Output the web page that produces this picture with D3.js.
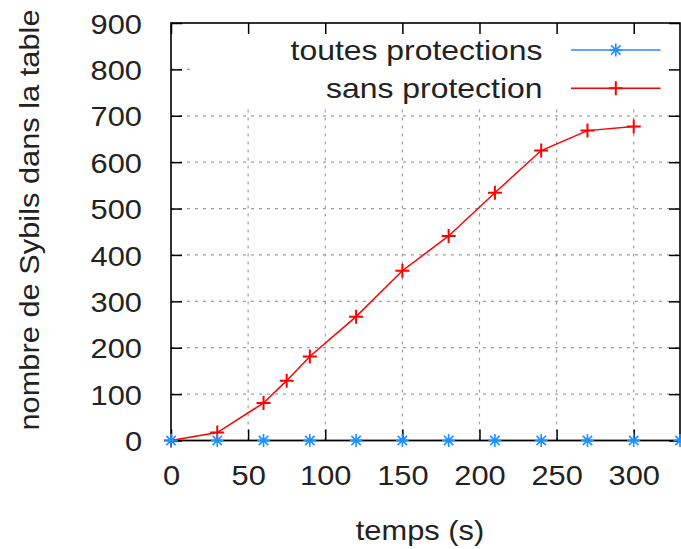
<!DOCTYPE html>
<html>
<head>
<meta charset="utf-8">
<script src="https://cdn.jsdelivr.net/npm/d3@7"></script>
<style>
  html, body { margin: 0; padding: 0; background: #fff; }
  svg { display: block; }
  text { font-family: "Liberation Sans", Arial, sans-serif; fill: #222; }
</style>
</head>
<body>
<svg id="chart" width="681" height="549"></svg>
<script>
// Time samples (s) and number of Sybil nodes held in the table
const timesAll = [0, 30, 60, 90, 120, 150, 180, 210, 240, 270, 300, 330];
const sybilsAll = [0, 0, 0, 0, 0, 0, 0, 0, 0, 0, 0, 0];
const timesNone = [0, 30, 60, 75, 90, 120, 150, 180, 210, 240, 270, 300];
const sybilsNone = [0, 17, 81, 129, 181, 267, 366, 441, 534, 625, 668, 677];

const seriesNames = ["toutes protections", "sans protection"];
const xTicks = [0, 50, 100, 150, 200, 250, 300];
const yTicks = [0, 100, 200, 300, 400, 500, 600, 700, 800, 900];
const xTitle = "temps (s)";
const yTitle = "nombre de Sybils dans la table";

const blue = "#1e8fff";
const red = "#ff0000";
const fontSize = 28;
const fontFamily = '"Liberation Sans", Arial, sans-serif';
const textWiden = 1.1;   // glyphs are drawn slightly wide
const keyWiden = 1.14;

const svg = d3.select("#chart");
const plotLeft = 171, plotRight = 680, plotTop = 23, plotBottom = 440.5;

const x = d3.scaleLinear().domain([0, 330]).range([plotLeft, plotRight]);
const y = d3.scaleLinear().domain([0, 900]).range([plotBottom, plotTop]);

// dashed grid
const grid = svg.append("g").attr("stroke", "#a0a0a0").attr("stroke-width", 1.2)
  .attr("stroke-dasharray", "3,5");
grid.selectAll("line.gx").data(xTicks.filter(d => d > 0)).join("line")
  .attr("x1", d => x(d)).attr("x2", d => x(d))
  .attr("y1", plotBottom).attr("y2", plotTop);
grid.selectAll("line.gy").data(yTicks.filter(d => d > 0 && d < 900)).join("line")
  .attr("x1", plotLeft).attr("x2", plotRight)
  .attr("y1", d => y(d)).attr("y2", d => y(d));

// opaque key box
svg.append("rect").attr("x", 191).attr("y", plotTop).attr("width", plotRight - 191).attr("height", 107 - plotTop)
  .attr("fill", "#fff");

// blue series line (lies on the axis)
const lineAll = d3.line().x((d, i) => x(timesAll[i])).y(d => y(d));
svg.append("path").datum(sybilsAll).attr("d", lineAll)
  .attr("fill", "none").attr("stroke", blue).attr("stroke-width", 1.5);

// axes with inward ticks
function styleAxis(g) {
  g.selectAll(".domain").remove();
  g.selectAll(".tick line").attr("stroke", "#000").attr("stroke-width", 1.5);
  g.selectAll(".tick text").style("font-size", fontSize + "px")
    .style("font-family", fontFamily).attr("fill", "#222");
}
const tick = 11;
svg.append("g").attr("transform", `translate(${plotLeft},0)`)
  .call(d3.axisLeft(y).tickValues(yTicks).tickSizeInner(-tick).tickSizeOuter(0).tickPadding(29))
  .call(styleAxis).selectAll(".tick text").attr("dy", "0.36em");
svg.append("g").attr("transform", `translate(0,${plotBottom})`)
  .call(d3.axisBottom(x).tickValues(xTicks).tickSizeInner(-tick).tickSizeOuter(0).tickPadding(25))
  .call(styleAxis);
svg.append("g").attr("transform", `translate(${plotRight},0)`)
  .call(d3.axisRight(y).tickValues(yTicks).tickSizeInner(-tick).tickSizeOuter(0).tickFormat(""))
  .call(styleAxis);
svg.append("g").attr("transform", `translate(0,${plotTop})`)
  .call(d3.axisTop(x).tickValues(xTicks).tickSizeInner(-tick).tickSizeOuter(0).tickFormat(""))
  .call(styleAxis);

// plot border
svg.append("rect").attr("x", plotLeft).attr("y", plotTop).attr("width", plotRight - plotLeft).attr("height", plotBottom - plotTop)
  .attr("fill", "none").attr("stroke", "#000").attr("stroke-width", 1.6);

// markers
function star(g, cx, cy, r, color) {
  const s = r * 0.72;
  g.append("path")
    .attr("d", `M${cx - r},${cy}H${cx + r}M${cx},${cy - r}V${cy + r}M${cx - s},${cy - s}L${cx + s},${cy + s}M${cx - s},${cy + s}L${cx + s},${cy - s}`)
    .attr("stroke", color).attr("stroke-width", 1.6).attr("fill", "none");
}
function plus(g, cx, cy, r, color) {
  g.append("path")
    .attr("d", `M${cx - r},${cy}H${cx + r}M${cx},${cy - r}V${cy + r}`)
    .attr("stroke", color).attr("stroke-width", 2).attr("fill", "none");
}

// red series
const lineNone = d3.line().x((d, i) => x(timesNone[i])).y(d => y(d));
svg.append("path").datum(sybilsNone).attr("d", lineNone)
  .attr("fill", "none").attr("stroke", red).attr("stroke-width", 1.5);

const mk = svg.append("g");
sybilsNone.forEach((v, i) => plus(mk, x(timesNone[i]), y(v), 7, red));
sybilsAll.forEach((v, i) => star(mk, x(timesAll[i]), y(v), 6.5, blue));

// widen every label a little, keeping its anchor
function widen(sel, k) {
  sel.each(function () {
    const w = this.getComputedTextLength();
    if (w > 0) d3.select(this).attr("textLength", w * k).attr("lengthAdjust", "spacingAndGlyphs");
  });
}

// axis titles
svg.append("text").attr("x", 420).attr("y", 540).attr("text-anchor", "middle")
  .style("font-size", fontSize + "px").text(xTitle);
svg.append("text").attr("transform", "translate(29,220) rotate(-90)").attr("dy", "0.36em")
  .attr("text-anchor", "middle").style("font-size", fontSize + "px").text(yTitle);
widen(svg.selectAll("text"), textWiden);

// key
const keyTextX = 542.5, keyLineX1 = 571, keyLineX2 = 660.6, keyYs = [50, 88.3];
const key = svg.append("g");
[[blue, star], [red, plus]].forEach(([color, fn], i) => {
  key.append("text").attr("x", keyTextX).attr("y", keyYs[i]).attr("dy", "0.36em")
    .attr("text-anchor", "end").style("font-size", fontSize + "px").text(seriesNames[i]);
  key.append("line").attr("x1", keyLineX1).attr("x2", keyLineX2)
    .attr("y1", keyYs[i]).attr("y2", keyYs[i]).attr("stroke", color).attr("stroke-width", 1.5);
  fn(key, (keyLineX1 + keyLineX2) / 2, keyYs[i], i === 0 ? 6.5 : 7, color);
});
widen(key.selectAll("text"), keyWiden);
</script>
</body>
</html>
